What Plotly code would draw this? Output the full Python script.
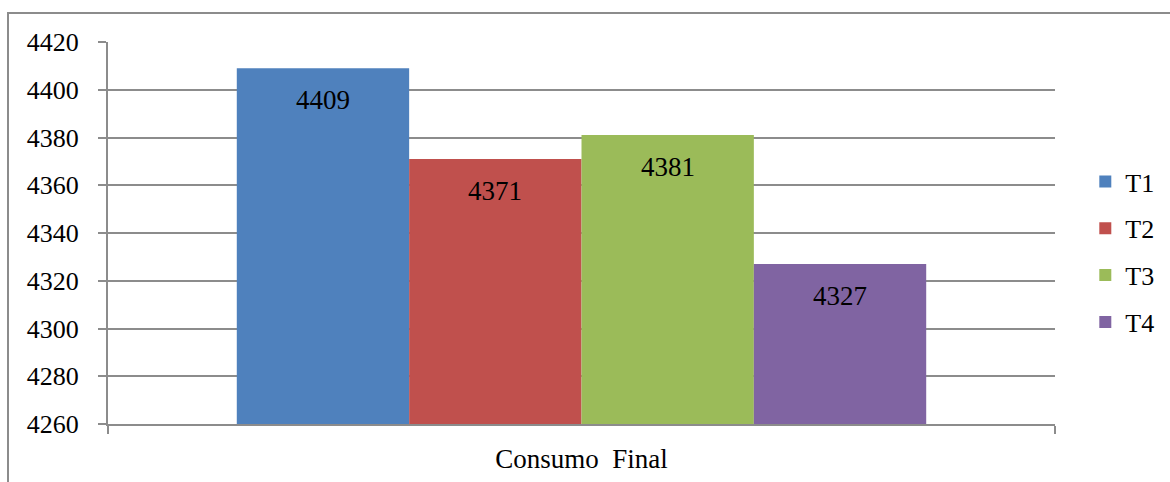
import plotly.graph_objects as go

categories = ["Consumo  Final"]
series_names = ["T1", "T2", "T3", "T4"]
series_values = [4409, 4371, 4381, 4327]
series_colors = ["#4F81BD", "#C0504D", "#9BBB59", "#8064A2"]
y_ticks = [4260, 4280, 4300, 4320, 4340, 4360, 4380, 4400, 4420]

font_family = "Liberation Serif, DejaVu Serif, serif"
grid_color = "#8C8C8C"
bargap = 0.272

fig = go.Figure()
for name, val, color in zip(series_names, series_values, series_colors):
    fig.add_trace(go.Bar(
        x=categories, y=[val], name=name, legendgroup=name,
        marker=dict(color=color, line=dict(width=0)),
    ))

# Value labels sit inside each bar, a little below its top
n = len(series_values)
bar_w = (1 - bargap) / n
annotations = []
for i, val in enumerate(series_values):
    annotations.append(dict(
        x=-(1 - bargap) / 2 + (i + 0.5) * bar_w, y=val, xref="x", yref="y",
        text=str(val), showarrow=False, yshift=-32, yanchor="middle",
        font=dict(family=font_family, size=27, color="#000000"),
    ))

fig.update_layout(
    width=1170, height=482,
    margin=dict(l=108, r=115, t=42, b=58, autoexpand=False),
    paper_bgcolor="white", plot_bgcolor="white",
    barmode="group", bargap=bargap, bargroupgap=0,
    font=dict(family=font_family, size=26, color="#000000"),
    showlegend=True,
    legend=dict(x=1.032, y=0.45, xanchor="left", yanchor="middle",
                font=dict(family=font_family, size=26),
                tracegroupgap=10, itemwidth=30,
                bgcolor="rgba(0,0,0,0)"),
    annotations=annotations,
    shapes=[dict(type="rect", xref="paper", yref="paper",
                 x0=(8 - 108) / 947, x1=(1180 - 108) / 947,
                 y0=-0.3, y1=1 + (42 - 13) / 382,
                 line=dict(color="#8C8C8C", width=2), layer="below")],
)

fig.update_xaxes(
    type="category", range=[-0.5, 0.5],
    showline=True, linecolor=grid_color, linewidth=2,
    ticks="outside", tickson="boundaries", ticklen=8, tickwidth=2, tickcolor=grid_color,
    showgrid=False, tickfont=dict(family=font_family, size=27), ticklabelstandoff=10,
)
fig.update_yaxes(
    range=[4260, 4420], tickvals=y_ticks, ticktext=[str(v) for v in y_ticks],
    showline=True, linecolor=grid_color, linewidth=2,
    ticks="outside", ticklen=8, tickwidth=2, tickcolor=grid_color,
    showgrid=True, gridcolor=grid_color, gridwidth=2, zeroline=False,
    tickfont=dict(family=font_family, size=26), ticklabelstandoff=14,
)

fig.write_html("out.html")
